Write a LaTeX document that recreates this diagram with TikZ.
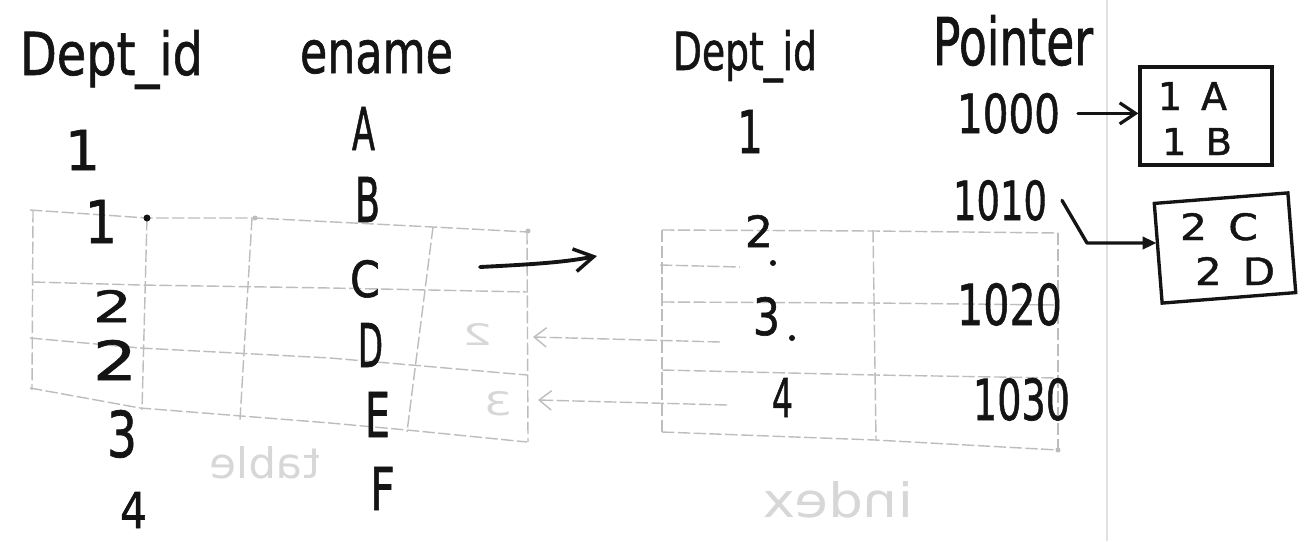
\documentclass[tikz,border=0pt]{standalone}
\usepackage{fontspec}
\setmainfont{DejaVu Sans}
\newfontfamily\handfont[FakeBold=1.2]{DejaVu Sans}
\usepackage{graphicx}
\usetikzlibrary{arrows.meta}
\newlength\pxu
\setlength\pxu{0.02cm}
\newcommand\hw[3]{\resizebox{#1\pxu}{#2\pxu}{\handfont #3}}
\newcommand\gw[3]{\resizebox{#1\pxu}{#2\pxu}{#3}}
\newcommand\mirr[1]{\scalebox{-1}[1]{#1}}
\definecolor{ink}{HTML}{141414}
\definecolor{ghost}{HTML}{BDBDBD}
\tikzset{
  hand/.style={anchor=base west, inner sep=0pt, outer sep=0pt, text=ink},
  ghosttext/.style={anchor=base west, inner sep=0pt, outer sep=0pt, text=ghost!60},
  faint/.style={draw=ghost, line width=0.8pt, dash pattern=on 7pt off 2pt},
  inkline/.style={draw=ink, line width=1.9pt, line cap=round, line join=round},
}
\begin{document}
\begin{tikzpicture}[x=0.02cm, y=-0.02cm]
\useasboundingbox[fill=white] (0,0) rectangle (1311,541);

% ---------- faint show-through (paper back side) ----------
\draw[draw=ghost!45, line width=0.8pt] (1107,0) -- (1107,541);
% left table grid
\draw[faint] (30,210) -- (147,218) -- (255,218) -- (433,227) -- (528,232);
\draw[faint] (33,282) -- (140,285) -- (330,288) -- (528,292);
\draw[faint] (30,338) -- (140,348) -- (330,358) -- (527,375);
\draw[faint] (30,388) -- (140,408) -- (330,423) -- (407,430) -- (527,442);
\draw[faint] (33,210) -- (32,390);
\draw[faint] (147,218) -- (142,410);
\draw[faint] (252,218) -- (240,420);
\draw[faint] (433,227) -- (407,432);
\draw[faint] (527,232) -- (528,442);
% right table grid
\draw[faint] (662,230) -- (873,231) -- (1058,233);
\draw[faint] (662,302) -- (873,303) -- (1058,305);
\draw[faint] (662,370) -- (875,375) -- (1058,378);
\draw[faint] (662,432) -- (875,440) -- (1058,450);
\draw[faint] (662,230) -- (662,432);
\draw[faint] (873,230) -- (876,440);
\draw[faint] (1058,233) -- (1058,450);
\draw[faint] (660,265) -- (740,267);
% faint left-pointing arrows
\coordinate (ga1) at (720,342);
\coordinate (gb1) at (533,337);
\coordinate (ga2) at (727,405);
\coordinate (gb2) at (538,400);
\draw[faint, -{Straight Barb[length=7pt,width=11pt]}] (ga1) -- (gb1);
\draw[faint, -{Straight Barb[length=7pt,width=11pt]}] (ga2) -- (gb2);
\fill[ghost] (255,218) circle (2.5);
\fill[ghost] (528,231) circle (2.5);
\fill[ghost] (1058,450) circle (2.5);
% faint mirrored words
\node[ghosttext] (gtable) at (210,478) {\mirr{\gw{110}{32}{table}}};
\node[ghosttext] (gindex) at (763,517) {\mirr{\gw{150}{36}{index}}};
\node[ghosttext] (g2) at (462,345) {\mirr{\gw{30}{22}{2}}};
\node[ghosttext] (g3) at (484,415) {\mirr{\gw{28}{24}{3}}};

% ---------- headers ----------
\node[hand] (hdept) at (20,75) {\hw{183}{45}{Dept\_id}};
\node[hand] (hename) at (300,73) {\hw{153}{33}{ename}};
\node[hand] (hdept2) at (673,70) {\hw{144}{40}{Dept\_id}};
\node[hand] (hptr) at (933,65) {\hw{160}{50}{Pointer}};

% ---------- left table ----------
\node[hand] (l1) at (65,170) {\hw{35}{40}{1}};
\node[hand] (l2) at (85,243) {\hw{32}{43}{1}};
\node[hand] (l3) at (93,322) {\hw{39}{32}{2}};
\node[hand] (l4) at (93,380) {\hw{44}{40}{2}};
\node[hand] (l5) at (107,457) {\hw{30}{47}{3}};
\node[hand] (l6) at (120,528) {\hw{27}{36}{4}};
\fill[ink] (147,218) circle (3.5);

\node[hand] (eA) at (352,150) {\hw{23}{43}{A}};
\node[hand] (eB) at (355,222) {\hw{25}{45}{B}};
\node[hand] (eC) at (350,297) {\hw{30}{37}{C}};
\node[hand] (eD) at (358,367) {\hw{25}{44}{D}};
\node[hand] (eE) at (365,437) {\hw{25}{45}{E}};
\node[hand] (eF) at (370,510) {\hw{25}{43}{F}};

% middle arrow
\coordinate (ma1) at (480,267);
\coordinate (ma2) at (597,256);
\draw[inkline, line width=2.2pt, -{Straight Barb[length=11pt,width=13pt,line width=2pt]}]
  (ma1) .. controls (540,264) and (565,262) .. (ma2);

% ---------- right index ----------
\node[hand] (r1) at (737,153) {\hw{26}{43}{1}};
\node[hand] (r2) at (745,247) {\hw{28}{32}{2}};
\node[hand] (r3) at (753,335) {\hw{27}{38}{3}};
\node[hand] (r4) at (772,417) {\hw{21}{39}{4}};
\fill[ink] (773,263) circle (3);
\fill[ink] (792,338) circle (3);

\node[hand] (p1000) at (957,133) {\hw{103}{40}{1000}};
\node[hand] (p1010) at (953,220) {\hw{94}{40}{1010}};
\node[hand] (p1020) at (957,325) {\hw{105}{42}{1020}};
\node[hand] (p1030) at (973,420) {\hw{97}{42}{1030}};

% ---------- buckets ----------
\node[draw=ink, line width=1.9pt, minimum width=132\pxu, minimum height=98\pxu, inner sep=0pt] (box1) at (1206,116) {};
\node[hand] (b1a) at (1158,110) {\hw{69}{28}{1\,\,\,A}};
\node[hand] (b1b) at (1162,155) {\hw{70}{27}{1\,\,\,B}};

\node[draw=ink, line width=1.9pt, rotate=4.5, minimum width=134\pxu, minimum height=100\pxu, inner sep=0pt] (box2) at (1225,248) {};
\node[hand] (b2a) at (1180,240) {\hw{78}{27}{2\,\,\,C}};
\node[hand] (b2b) at (1195,285) {\hw{80}{28}{2\,\,\,D}};

% pointer arrows
\draw[inkline, -{Straight Barb[length=9pt,width=12pt,line width=1.8pt]}]
  ([xshift=18\pxu]p1000.east) -- (box1.west |- p1000.east);
\coordinate (bend) at (1087,243);
\draw[inkline, -{Triangle[length=8pt,width=7pt]}]
  ([xshift=15\pxu]p1010.east) -- (bend) -- (box2.west |- bend);
\end{tikzpicture}
\end{document}
